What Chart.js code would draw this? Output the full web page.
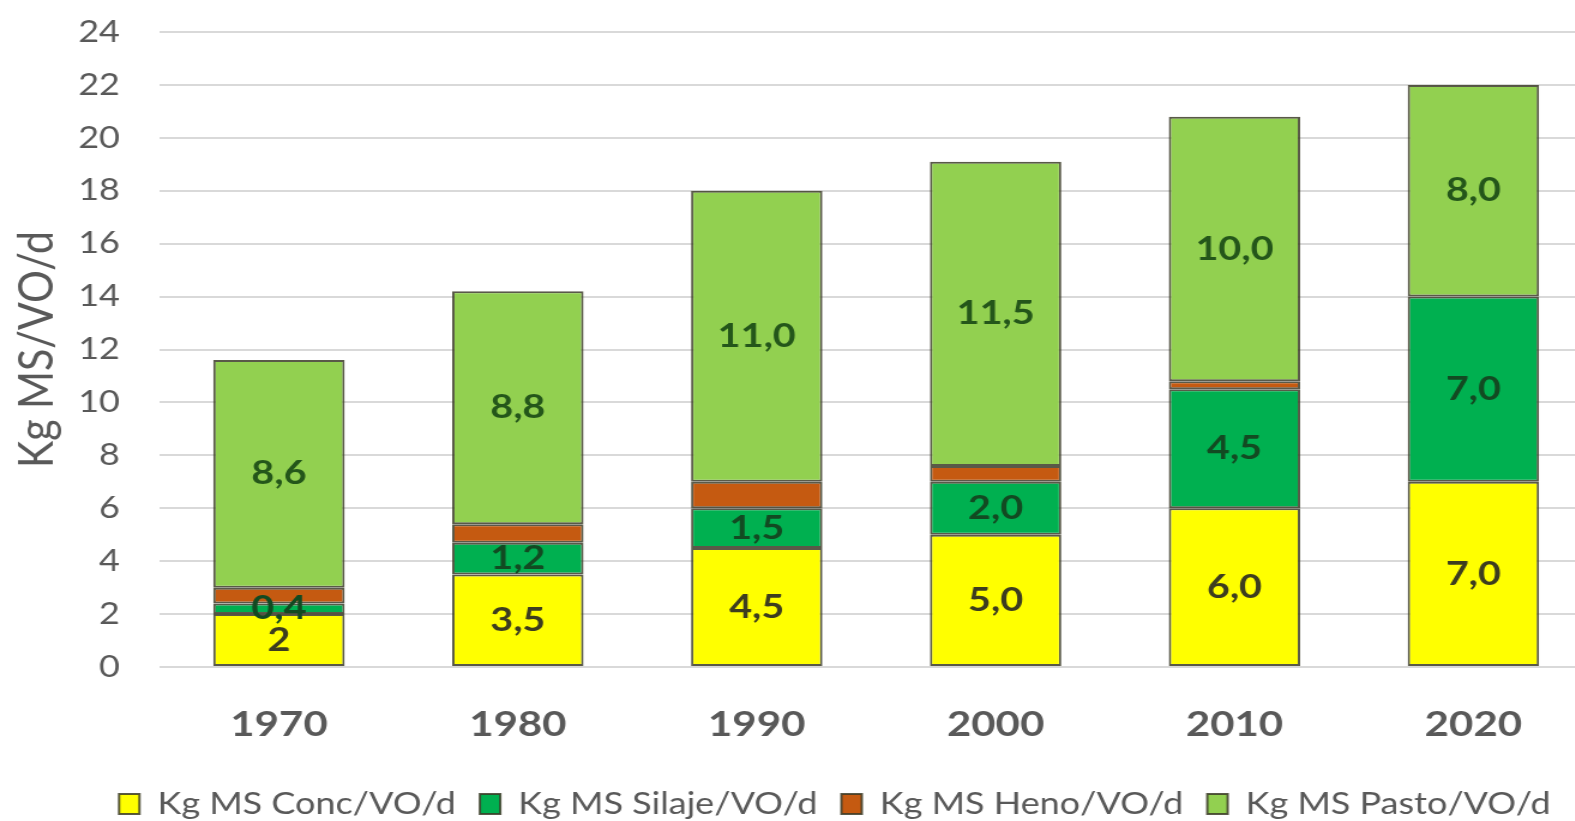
<!DOCTYPE html>
<html>
<head>
<meta charset="utf-8">
<script src="https://cdn.jsdelivr.net/npm/chart.js@4.4.0/dist/chart.umd.min.js"></script>
<style>
  html, body { margin: 0; padding: 0; background: #fff; overflow: hidden; }
</style>
</head>
<body>
<!-- the source picture is stretched sideways, so the canvas is drawn narrower and widened by css -->
<canvas id="chart" width="1334" height="821" style="width:1600px;height:821px;display:block"></canvas>
<script>
// data
const years  = ['1970', '1980', '1990', '2000', '2010', '2020'];
const conc   = [2, 3.5, 4.5, 5.0, 6.0, 7.0];
const silaje = [0.4, 1.2, 1.5, 2.0, 4.5, 7.0];
const heno   = [0.6, 0.7, 1.0, 0.6, 0.3, 0];
const pasto  = [8.6, 8.8, 11.0, 11.5, 10.0, 8.0];
const yMax = 24, yStep = 2;

const fmt = v => v.toFixed(1).replace('.', ',');
const grey = '#595959';

// draws the numbers inside the bars
const barLabels = {
  id: 'barLabels',
  afterDatasetsDraw(chart) {
    const ctx = chart.ctx;
    ctx.save();
    ctx.font = 'bold 33px Lato';
    ctx.textAlign = 'center';
    ctx.textBaseline = 'middle';
    chart.data.datasets.forEach((ds, i) => {
      if (!ds.labelText) return;
      ctx.fillStyle = ds.labelColor;
      chart.getDatasetMeta(i).data.forEach((bar, j) => {
        ctx.fillText(ds.labelText[j], bar.x, (bar.y + bar.base) / 2);
      });
    });
    ctx.restore();
  }
};

const barStyle = {
  borderColor: 'rgba(60,60,40,0.85)',
  borderWidth: 2,
  borderSkipped: false
};

var ctx = document.getElementById('chart').getContext('2d');
var chart = new Chart(ctx, {
  type: 'bar',
  data: {
    labels: years,
    datasets: [
      Object.assign({
        label: 'Kg MS Conc/VO/d',
        data: conc,
        backgroundColor: '#FFFF00',
        labelText: conc.map((v, i) => i === 0 ? String(v) : fmt(v)),
        labelColor: '#3d3d1f'
      }, barStyle),
      Object.assign({
        label: 'Kg MS Silaje/VO/d',
        data: silaje,
        backgroundColor: '#00B050',
        labelText: silaje.map(fmt),
        labelColor: '#124a22'
      }, barStyle),
      Object.assign({
        label: 'Kg MS Heno/VO/d',
        data: heno,
        backgroundColor: '#C55A11'
      }, barStyle),
      Object.assign({
        label: 'Kg MS Pasto/VO/d',
        data: pasto,
        backgroundColor: '#92D050',
        labelText: pasto.map(fmt),
        labelColor: '#24561a'
      }, barStyle)
    ]
  },
  options: {
    responsive: false,
    animation: false,
    layout: { padding: { left: 64, right: 6, top: 32, bottom: -8 } },
    datasets: { bar: { barPercentage: 0.55, categoryPercentage: 1 } },
    plugins: {
      tooltip: { enabled: false },
      legend: {
        position: 'bottom',
        labels: {
          color: grey,
          font: { family: 'Lato', size: 30 },
          boxWidth: 17,
          boxHeight: 20,
          padding: 20
        }
      }
    },
    scales: {
      x: {
        stacked: true,
        grid: { display: false },
        border: { display: false },
        ticks: { color: grey, font: { family: 'Lato', size: 35, weight: 'bold' }, padding: 29 },
        afterFit: s => { s.height = 102; }
      },
      y: {
        stacked: true,
        min: 0,
        max: yMax,
        border: { display: false },
        // invisible tick marks keep the labels away from the plot
        grid: { color: '#d9d9d9', lineWidth: 2, drawTicks: true, tickLength: 33, tickColor: 'rgba(0,0,0,0)' },
        ticks: { stepSize: yStep, color: grey, font: { family: 'Lato', size: 30 }, padding: 0 },
        title: {
          display: true,
          text: 'Kg MS/VO/d',
          color: grey,
          font: { family: 'Lato', size: 41 },
          padding: { top: -58, bottom: 0 }
        },
        afterFit: s => { s.width = 69; }
      }
    }
  },
  plugins: [barLabels]
});
</script>
</body>
</html>
